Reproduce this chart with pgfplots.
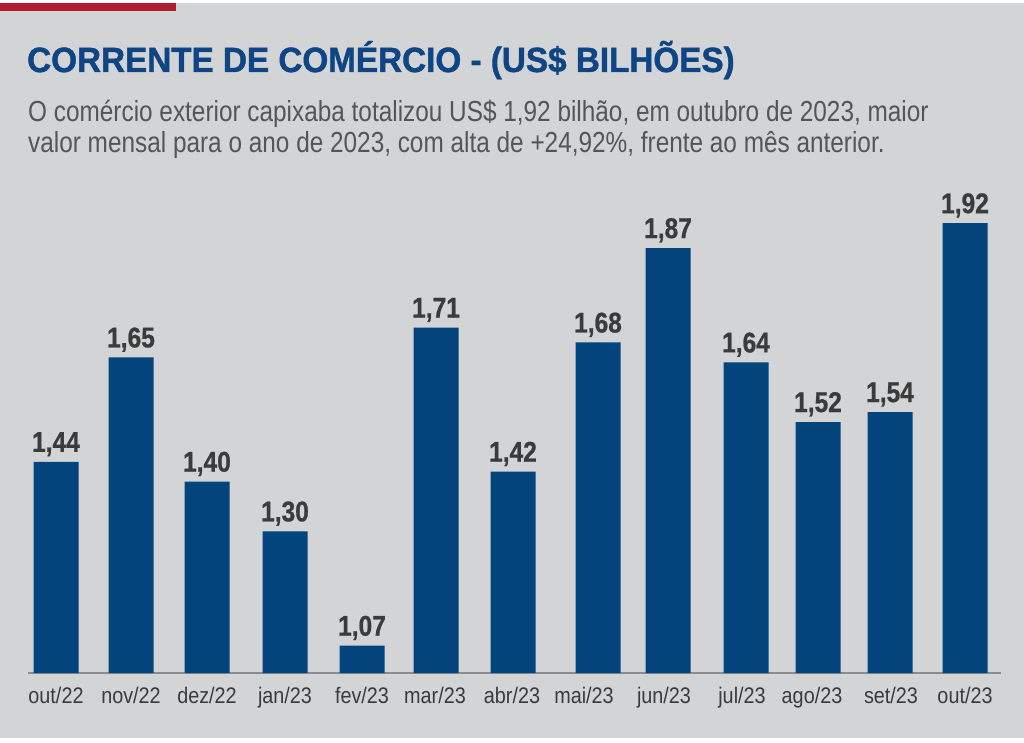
\documentclass[border=0pt]{standalone}
\usepackage{pgfplots}
\pgfplotsset{compat=1.18}
\usepackage{fontspec}
\setmainfont{Liberation Sans}[FakeStretch=0.84]
\newfontfamily\titlefont{Liberation Sans}[FakeStretch=0.95, BoldFeatures={FakeBold=1.2}]
\newfontfamily\valuefont{Liberation Sans}[FakeStretch=0.86, BoldFeatures={FakeBold=0.8}]
\newfontfamily\tickfont{Liberation Sans}[FakeStretch=0.88]

\definecolor{bggray}{HTML}{D3D4D6}
\definecolor{topred}{HTML}{B01E2D}
\definecolor{titleblue}{HTML}{0F4584}
\definecolor{barblue}{HTML}{03447D}
\definecolor{subgray}{HTML}{555555}
\definecolor{valgray}{HTML}{3B3B3B}
\definecolor{linegray}{HTML}{8C8C8C}

\begin{document}
\begin{tikzpicture}[x=1pt,y=1pt]
  % page and panel
  \fill[white] (0,0) rectangle (1024,742);
  \fill[bggray] (0,4) rectangle (1024,739);
  \fill[topred] (0,731) rectangle (176,739);

  % heading
  \node[anchor=base west, inner sep=0pt, text=titleblue,
        font=\titlefont\fontsize{35}{40}\selectfont\bfseries]
    at (27,670) {CORRENTE DE COMÉRCIO - (US\$ BILHÕES)};
  \node[anchor=base west, inner sep=0pt, text=subgray,
        font=\fontsize{29}{33}\selectfont]
    at (28,620) {O comércio exterior capixaba totalizou US\$ 1,92 bilhão, em outubro de 2023, maior};
  \node[anchor=base west, inner sep=0pt, text=subgray,
        font=\fontsize{29}{33}\selectfont]
    at (28,589) {valor mensal para o ano de 2023, com alta de +24,92\%, frente ao mês anterior.};

  \begin{axis}[
    at={(28pt,69pt)}, anchor=south west,
    scale only axis, width=973pt, height=464.7pt,
    xmin=28, xmax=1001, ymin=1.015, ymax=1.95,
    clip=false,
    axis x line*=bottom, axis y line=none,
    x axis line style={color=linegray, line width=2pt, -},
    ytick=\empty,
    major tick length=0pt,
    xtick={56,131,207,285,362,435,512,584,664,742,812,891,965},
    xticklabels={out/22,nov/22,dez/22,jan/23,fev/23,mar/23,abr/23,mai/23,jun/23,jul/23,ago/23,set/23,out/23},
    xticklabel style={font=\tickfont\fontsize{22.5}{26}\selectfont, text=valgray, anchor=base, yshift=-30pt},
    ybar, bar width=45pt,
    nodes near coords={\pgfmathprintnumber[fixed,fixed zerofill,precision=2,use comma,assume math mode=true]{\pgfplotspointmeta}},
    every node near coord/.append style={font=\valuefont\fontsize{28.5}{33}\selectfont\bfseries, text=valgray, anchor=base, yshift=10pt},
  ]
    \addplot[fill=barblue, draw=none] coordinates {
      (56,1.44) (131,1.65) (207,1.40) (285,1.30) (362,1.07) (436,1.71)
      (513,1.42) (598,1.68) (668,1.87) (746,1.64) (818,1.52) (890,1.54) (965,1.92)
    };
  \end{axis}
\end{tikzpicture}
\end{document}
